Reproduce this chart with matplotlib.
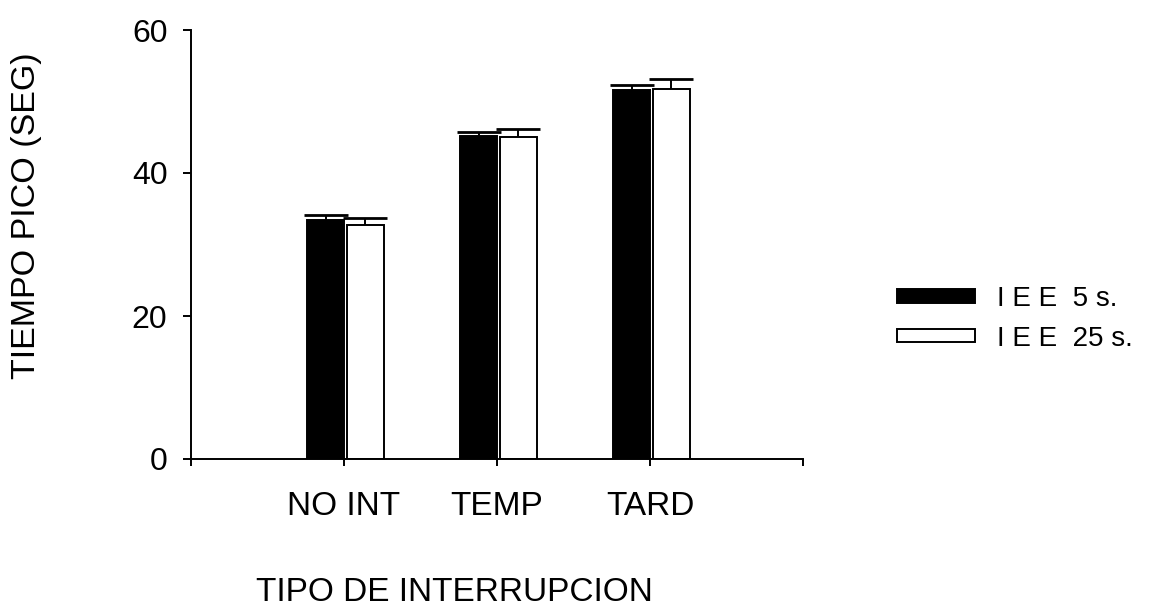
import numpy as np
import matplotlib
matplotlib.use('Agg')
import matplotlib.pyplot as plt
from matplotlib.patches import Patch

plt.rcParams['font.family'] = ['Liberation Sans', 'DejaVu Sans']

# datos: tiempo pico medio y error estandar por tipo de interrupcion
categorias = ['NO INT', 'TEMP', 'TARD']
iee5 = [33.4, 45.2, 51.6]
iee5_err = [0.7, 0.5, 0.7]
iee25 = [32.7, 45.0, 51.7]
iee25_err = [1.0, 1.1, 1.5]
series = ['I E E  5 s.', 'I E E  25 s.']

fig = plt.figure(figsize=(11.58, 6.09), dpi=100)
ax = fig.add_axes([191/1158, 1 - 459/609, 612/1158, 429/609])

x = np.arange(1, len(categorias) + 1)
ancho = 0.24
lw = 1.4

ax.bar(x - ancho, iee5, width=ancho, align='edge', color='black',
       edgecolor='black', linewidth=lw, zorder=2)
ax.bar(x + 0.02, iee25, width=ancho, align='edge', color='white',
       edgecolor='black', linewidth=lw, zorder=2)

# solo la mitad superior del error (se oculta el cap inferior)
for xs, ys, err in [(x - ancho / 2, iee5, iee5_err),
                    (x + 0.02 + ancho / 2, iee25, iee25_err)]:
    eb = ax.errorbar(xs, ys, yerr=[np.zeros(len(ys)), err], fmt='none',
                     ecolor='black', elinewidth=lw, capsize=15.5, capthick=2.0,
                     zorder=3)
    eb[1][0].set_visible(False)

ax.set_xlim(0, 4)
ax.set_ylim(0, 60)
ax.set_yticks([0, 20, 40, 60])
ax.set_xticks([0, 1, 2, 3, 4])
ax.set_xticklabels([''] + categorias + [''])

for s in ['top', 'right']:
    ax.spines[s].set_visible(False)
for s in ['left', 'bottom']:
    ax.spines[s].set_linewidth(lw)

ax.tick_params(axis='y', length=6, width=lw, pad=11, labelsize=23)
ax.tick_params(axis='x', length=5, width=lw, pad=18, labelsize=24)

fig.text(27/1158, 1 - 216/609, 'TIEMPO PICO (SEG)', rotation=90,
         ha='center', va='center', fontsize=24.5)
fig.text(454/1158, 1 - 601/609, 'TIPO DE INTERRUPCION',
         ha='center', va='baseline', fontsize=24)

handles = [Patch(facecolor='black', edgecolor='black', linewidth=lw),
           Patch(facecolor='white', edgecolor='black', linewidth=lw)]
fig.legend(handles, series, loc='upper left',
           bbox_to_anchor=(897/1158, 1 - 286/609), bbox_transform=fig.transFigure,
           frameon=False, fontsize=20, borderpad=0, borderaxespad=0,
           handlelength=2.8, handleheight=0.35, handletextpad=0.8,
           labelspacing=0.5)

fig.savefig('out.png', dpi=100)
